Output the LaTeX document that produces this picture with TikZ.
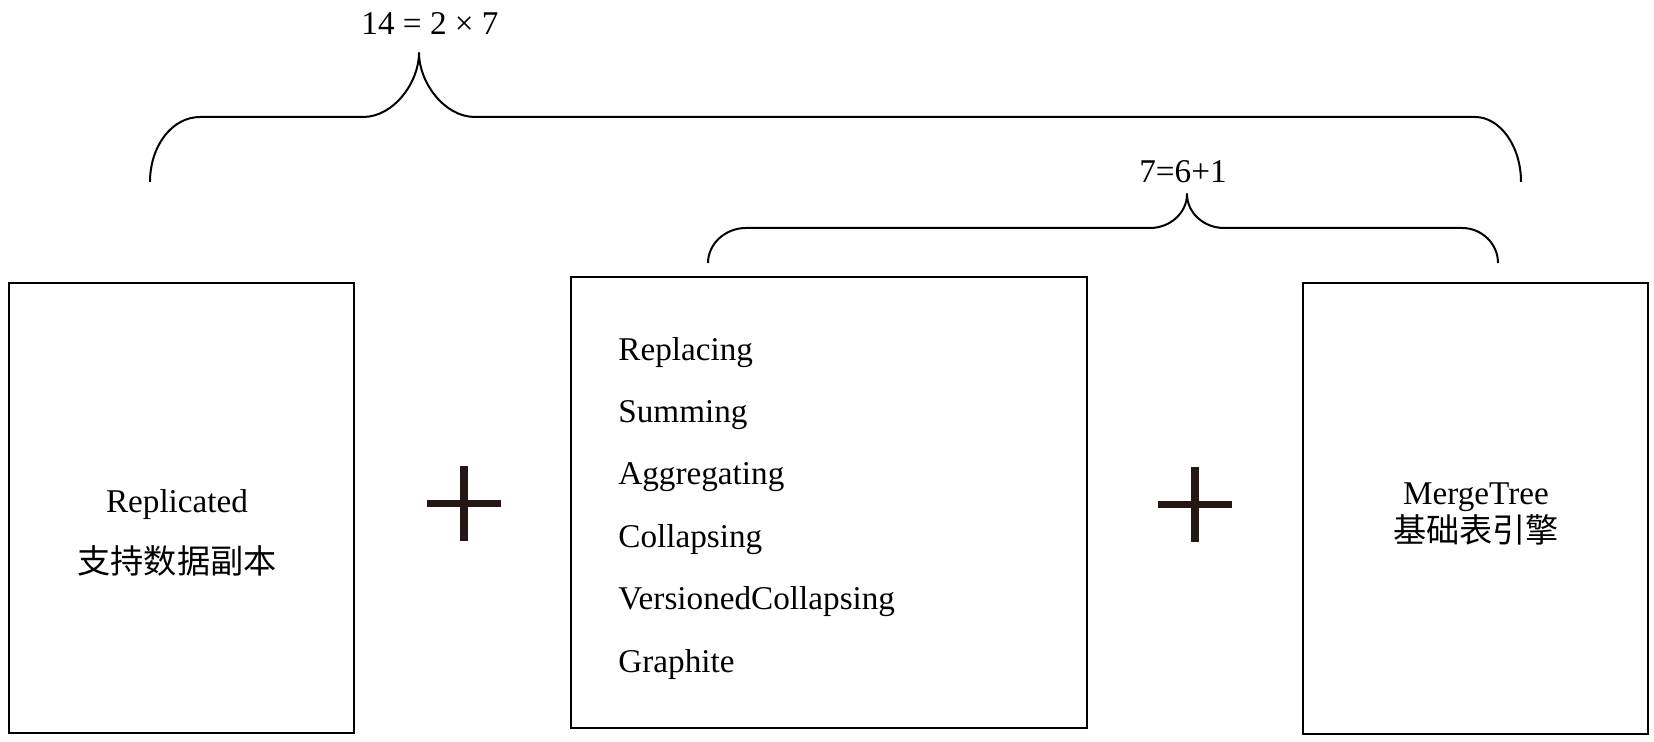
\documentclass[tikz,border=0pt]{standalone}
\usepackage{fontspec}
\setmainfont{Liberation Serif}
\newfontfamily\cjk{Noto Sans CJK SC}
\definecolor{plusc}{HTML}{231815}
\begin{document}
\begin{tikzpicture}[x=0.5pt,y=-0.5pt,
  box/.style={draw=black, line width=0.75pt, inner sep=0pt},
  lbl/.style={inner sep=0pt, font=\fontsize{16.6}{20}\selectfont},
  brace/.style={draw=black, line width=1pt, line join=round}]
\useasboundingbox (0,0) rectangle (1654,742);
% boxes
\node[box, minimum width=172.5pt, minimum height=225pt] (left) at (181.5,508) {};
\node[box, minimum width=258pt, minimum height=225.5pt] (mid) at (829,502.5) {};
\node[box, minimum width=172.5pt, minimum height=225.5pt] (right) at (1475.5,508.5) {};
% left box text
\node[lbl, anchor=base] (repl) at (177,513) {Replicated};
\node[lbl, anchor=base] (replcn) at (177,574) {\cjk 支持数据副本};
% right box text
\node[lbl, anchor=base] (mt) at (1476,505) {MergeTree};
\node[lbl, anchor=base] (mtcn) at (1476,543) {\cjk 基础表引擎};
% middle items
\node[lbl, anchor=base west] (i1) at (618,361) {Replacing};
\node[lbl, anchor=base west] (i2) at (618,423) {Summing};
\node[lbl, anchor=base west] (i3) at (618,485) {Aggregating};
\node[lbl, anchor=base west] (i4) at (618,548) {Collapsing};
\node[lbl, anchor=base west] (i5) at (618,610) {VersionedCollapsing};
\node[lbl, anchor=base west] (i6) at (618,672) {Graphite};
% plus signs
\foreach \cx/\cy in {464/504,1195/505}{
  \fill[plusc] (\cx-37,\cy-4) rectangle (\cx+37,\cy+3.5);
  \fill[plusc] (\cx-4,\cy-38) rectangle (\cx+4,\cy+37);
}
% big brace
\coordinate (bL) at (150,182);
\coordinate (bT) at (419,53);
\coordinate (bR) at (1521,182);
\draw[brace] (bL) .. controls (150,146) and (172,117) .. (200,117)
  -- (363,117) .. controls (394,117) and (419,82) .. (bT)
  .. controls (419,82) and (444,117) .. (475,117)
  -- (1475,117) .. controls (1500,117) and (1521,146) .. (bR);
\node[lbl, anchor=base] (t1) at (430,35) {14 = 2 × 7};
% small brace
\coordinate (sL) at (708,263);
\coordinate (sT) at (1187,194);
\coordinate (sR) at (1498,263);
\draw[brace] (sL) .. controls (708,244) and (725,228) .. (746,228)
  -- (1150,228) .. controls (1170,228) and (1187,213) .. (sT)
  .. controls (1187,213) and (1204,228) .. (1224,228)
  -- (1462,228) .. controls (1482,228) and (1498,244) .. (sR);
\node[lbl, anchor=base] (t2) at (1183,183) {7=6+1};
\end{tikzpicture}
\end{document}
